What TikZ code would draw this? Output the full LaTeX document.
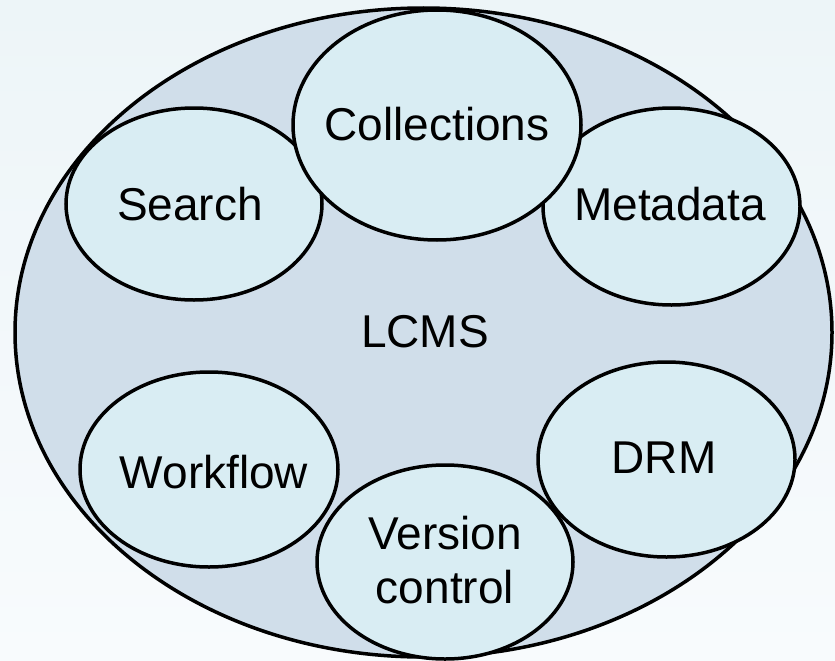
\documentclass[tikz,border=0pt]{standalone}
\usepackage{fontspec}
\setmainfont{Liberation Sans}
\usetikzlibrary{shapes.geometric}
\definecolor{bgtop}{HTML}{EDF5F8}
\definecolor{bgbot}{HTML}{F8FBFD}
\definecolor{outerfill}{HTML}{D0DEEA}
\definecolor{innerfill}{HTML}{D9EDF3}
\tikzset{
  outerell/.style={ellipse, draw=black, line width=3.5pt, fill=outerfill, inner sep=0pt},
  innerell/.style={ellipse, draw=black, line width=3.5pt, fill=innerfill, inner sep=0pt},
  lbl/.style={font=\fontsize{46}{54}\selectfont, align=center, inner sep=0pt},
}
\begin{document}
\begin{tikzpicture}[x=1pt,y=-1pt]
\useasboundingbox (0,0) rectangle (835,661);
\shade[top color=bgtop, bottom color=bgbot] (0,0) rectangle (835,661);
\node[outerell, minimum width=817pt, minimum height=649pt] (lcms) at (423.5,332.5) {};
\node[lbl] (lcmslabel) at (425,332) {LCMS};
\node[innerell, minimum width=256pt, minimum height=192pt] (search) at (194,204) {};
\node[lbl] (searchlabel) at (190,204) {Search};
\node[innerell, minimum width=257pt, minimum height=197pt] (meta) at (671.5,206.5) {};
\node[lbl] (metalabel) at (670,204) {Metadata};
\node[innerell, minimum width=288pt, minimum height=230pt] (coll) at (437,125) {};
\node[lbl] (colllabel) at (437,124) {Collections};
\node[innerell, minimum width=258pt, minimum height=195pt] (work) at (209,469.5) {};
\node[lbl] (worklabel) at (214,472) {Workflow};
\node[innerell, minimum width=257pt, minimum height=195pt] (drm) at (666.5,459.5) {};
\node[lbl] (drmlabel) at (664,458) {DRM};
\node[innerell, minimum width=256pt, minimum height=194pt] (ver) at (445,562) {};
\node[lbl] (verlabel) at (445,560) {Version\\control};
\end{tikzpicture}
\end{document}
